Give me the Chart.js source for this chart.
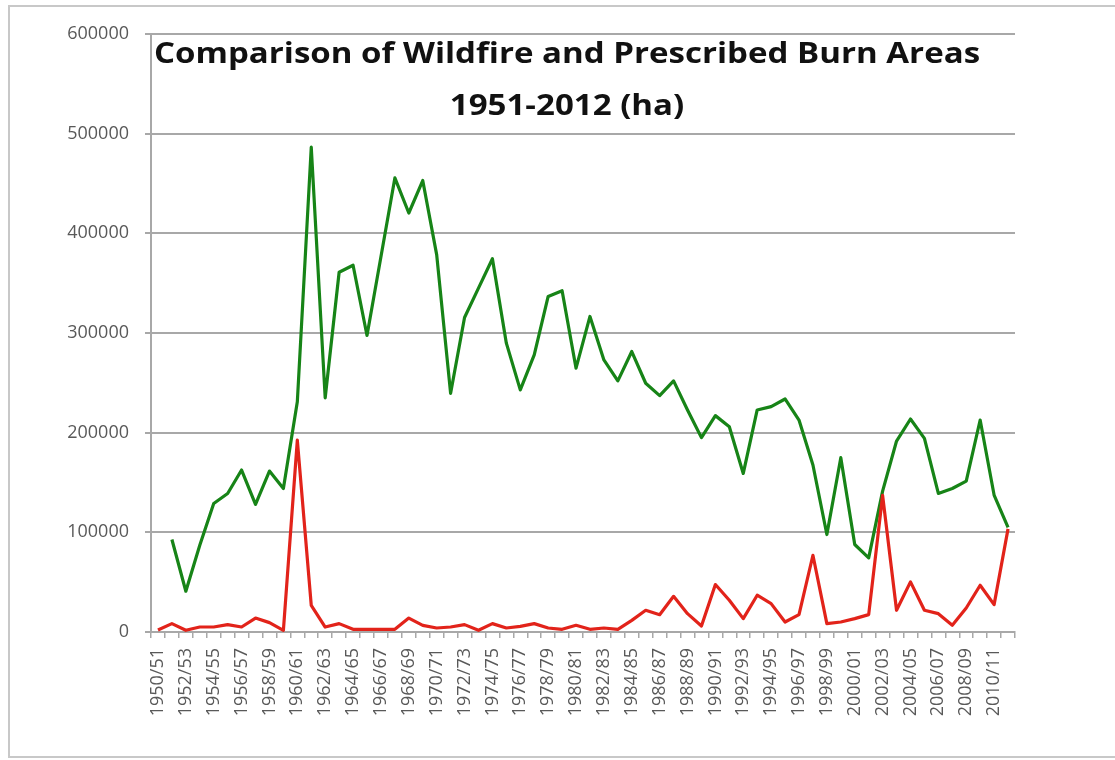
<!DOCTYPE html>
<html>
<head>
<meta charset="utf-8">
<script src="https://cdn.jsdelivr.net/npm/chart.js@4.4.1/dist/chart.umd.min.js"></script>
<style>
  html, body { margin: 0; padding: 0; background: #fff; overflow: hidden; }
  #wrap { position: relative; width: 1115px; height: 760px; }
  #frame { position: absolute; left: 8px; top: 5px; width: 1130px; height: 753px;
           border: 2px solid #c8c8c8; box-sizing: border-box; }
  #c { position: absolute; left: 0; top: 0; }
  .title { position: absolute; left: 150px; width: 834px; text-align: center;
           font-family: "Open Sans", sans-serif; font-weight: bold; font-size: 29px;
           line-height: 40px; color: #111; white-space: nowrap;
           transform: scaleX(1.14); transform-origin: 417px 50%; }
</style>
</head>
<body>
<div id="wrap">
  <div id="frame"></div>
  <canvas id="c" width="1115" height="760"></canvas>
  <div class="title" style="top:32px">Comparison of Wildfire and Prescribed Burn Areas</div>
  <div class="title" style="top:84px">1951-2012 (ha)</div>
</div>
<script>
// Fire seasons (July-June years)
const categories = [
  "1950/51","1951/52","1952/53","1953/54","1954/55","1955/56","1956/57","1957/58",
  "1958/59","1959/60","1960/61","1961/62","1962/63","1963/64","1964/65","1965/66",
  "1966/67","1967/68","1968/69","1969/70","1970/71","1971/72","1972/73","1973/74",
  "1974/75","1975/76","1976/77","1977/78","1978/79","1979/80","1980/81","1981/82",
  "1982/83","1983/84","1984/85","1985/86","1986/87","1987/88","1988/89","1989/90",
  "1990/91","1991/92","1992/93","1993/94","1994/95","1995/96","1996/97","1997/98",
  "1998/99","1999/00","2000/01","2001/02","2002/03","2003/04","2004/05","2005/06",
  "2006/07","2007/08","2008/09","2009/10","2010/11","2011/12"
];

// Area burnt by wildfire (ha)
const wildfireArea = [
  null, 92800, 40900, 87000, 129000, 139000, 162500, 128000,
  161500, 144000, 231000, 486400, 235000, 361000, 368000, 297500,
  376500, 455600, 420400, 453000, 378600, 239500, 315600, 345000,
  374500, 289800, 242900, 278000, 336700, 342400, 264700, 316600,
  273000, 252000, 281400, 249600, 237200, 252000, 222800, 195000,
  217100, 206000, 159100, 222800, 226100, 233800, 212700, 167500,
  97800, 174900, 87800, 74400, 141400, 191600, 213700, 194300,
  139000, 144000, 151400, 212700, 137400, 105000
];

// Area treated by prescribed burning (ha)
const prescribedArea = [
  2000, 8400, 1700, 5000, 5000, 7400, 5000, 14000,
  9400, 1700, 192600, 26800, 5000, 8400, 2700, 2700,
  2700, 2700, 14000, 6700, 4000, 5000, 7400, 1700,
  8400, 4000, 5700, 8400, 4000, 2700, 6700, 2700,
  4000, 2700, 11700, 21800, 17400, 35800, 18400, 6000,
  47600, 31800, 13400, 36900, 28500, 10000, 17400, 77000,
  8400, 10000, 13400, 17400, 137000, 21800, 50300, 21800,
  18400, 6700, 24100, 46900, 27500, 103500
];

// Value axis
const yTicks = [0, 100000, 200000, 300000, 400000, 500000, 600000];

const axisGrey = '#a8a8a8';
const labelGrey = '#595959';

new Chart(document.getElementById('c'), {
  type: 'line',
  data: {
    labels: categories,
    datasets: [
      {
        label: 'Prescribed burns',
        data: prescribedArea,
        borderColor: '#e2231a',
        borderWidth: 3.2,
        borderJoinStyle: 'round',
        pointRadius: 0,
        tension: 0,
        order: 0
      },
      {
        label: 'Wildfires',
        data: wildfireArea,
        borderColor: '#178417',
        borderWidth: 3.2,
        borderJoinStyle: 'round',
        pointRadius: 0,
        tension: 0,
        spanGaps: false,
        order: 1
      }
    ]
  },
  options: {
    responsive: false,
    animation: false,
    layout: { padding: { top: 34, right: 100, left: 0, bottom: 0 } },
    plugins: {
      legend: { display: false },
      tooltip: { enabled: false },
      title: { display: false }
    },
    scales: {
      x: {
        type: 'category',
        offset: true,
        grid: {
          offset: true,
          drawOnChartArea: false,
          drawTicks: true,
          tickLength: 6,
          color: axisGrey,
          lineWidth: 1.5
        },
        border: { display: true, color: axisGrey, width: 2 },
        ticks: {
          autoSkip: false,
          minRotation: 90,
          maxRotation: 90,
          padding: 10,
          color: labelGrey,
          font: { family: '"Open Sans", sans-serif', size: 18 },
          callback: function (value, index) {
            return index % 2 === 0 ? categories[index] : '';
          }
        },
        afterFit: function (scale) { scale.height = 128; }
      },
      y: {
        min: yTicks[0],
        max: yTicks[yTicks.length - 1],
        afterBuildTicks: function (scale) {
          scale.ticks = yTicks.map(v => ({ value: v }));
        },
        grid: {
          color: axisGrey,
          lineWidth: 2,
          tickLength: 6,
          drawTicks: true
        },
        border: { display: true, color: axisGrey, width: 2 },
        ticks: {
          padding: 16,
          color: labelGrey,
          font: { family: '"Open Sans", sans-serif', size: 18 },
          callback: function (value) { return String(value); }
        },
        afterFit: function (scale) { scale.width = 151; }
      }
    }
  }
});
</script>
</body>
</html>
